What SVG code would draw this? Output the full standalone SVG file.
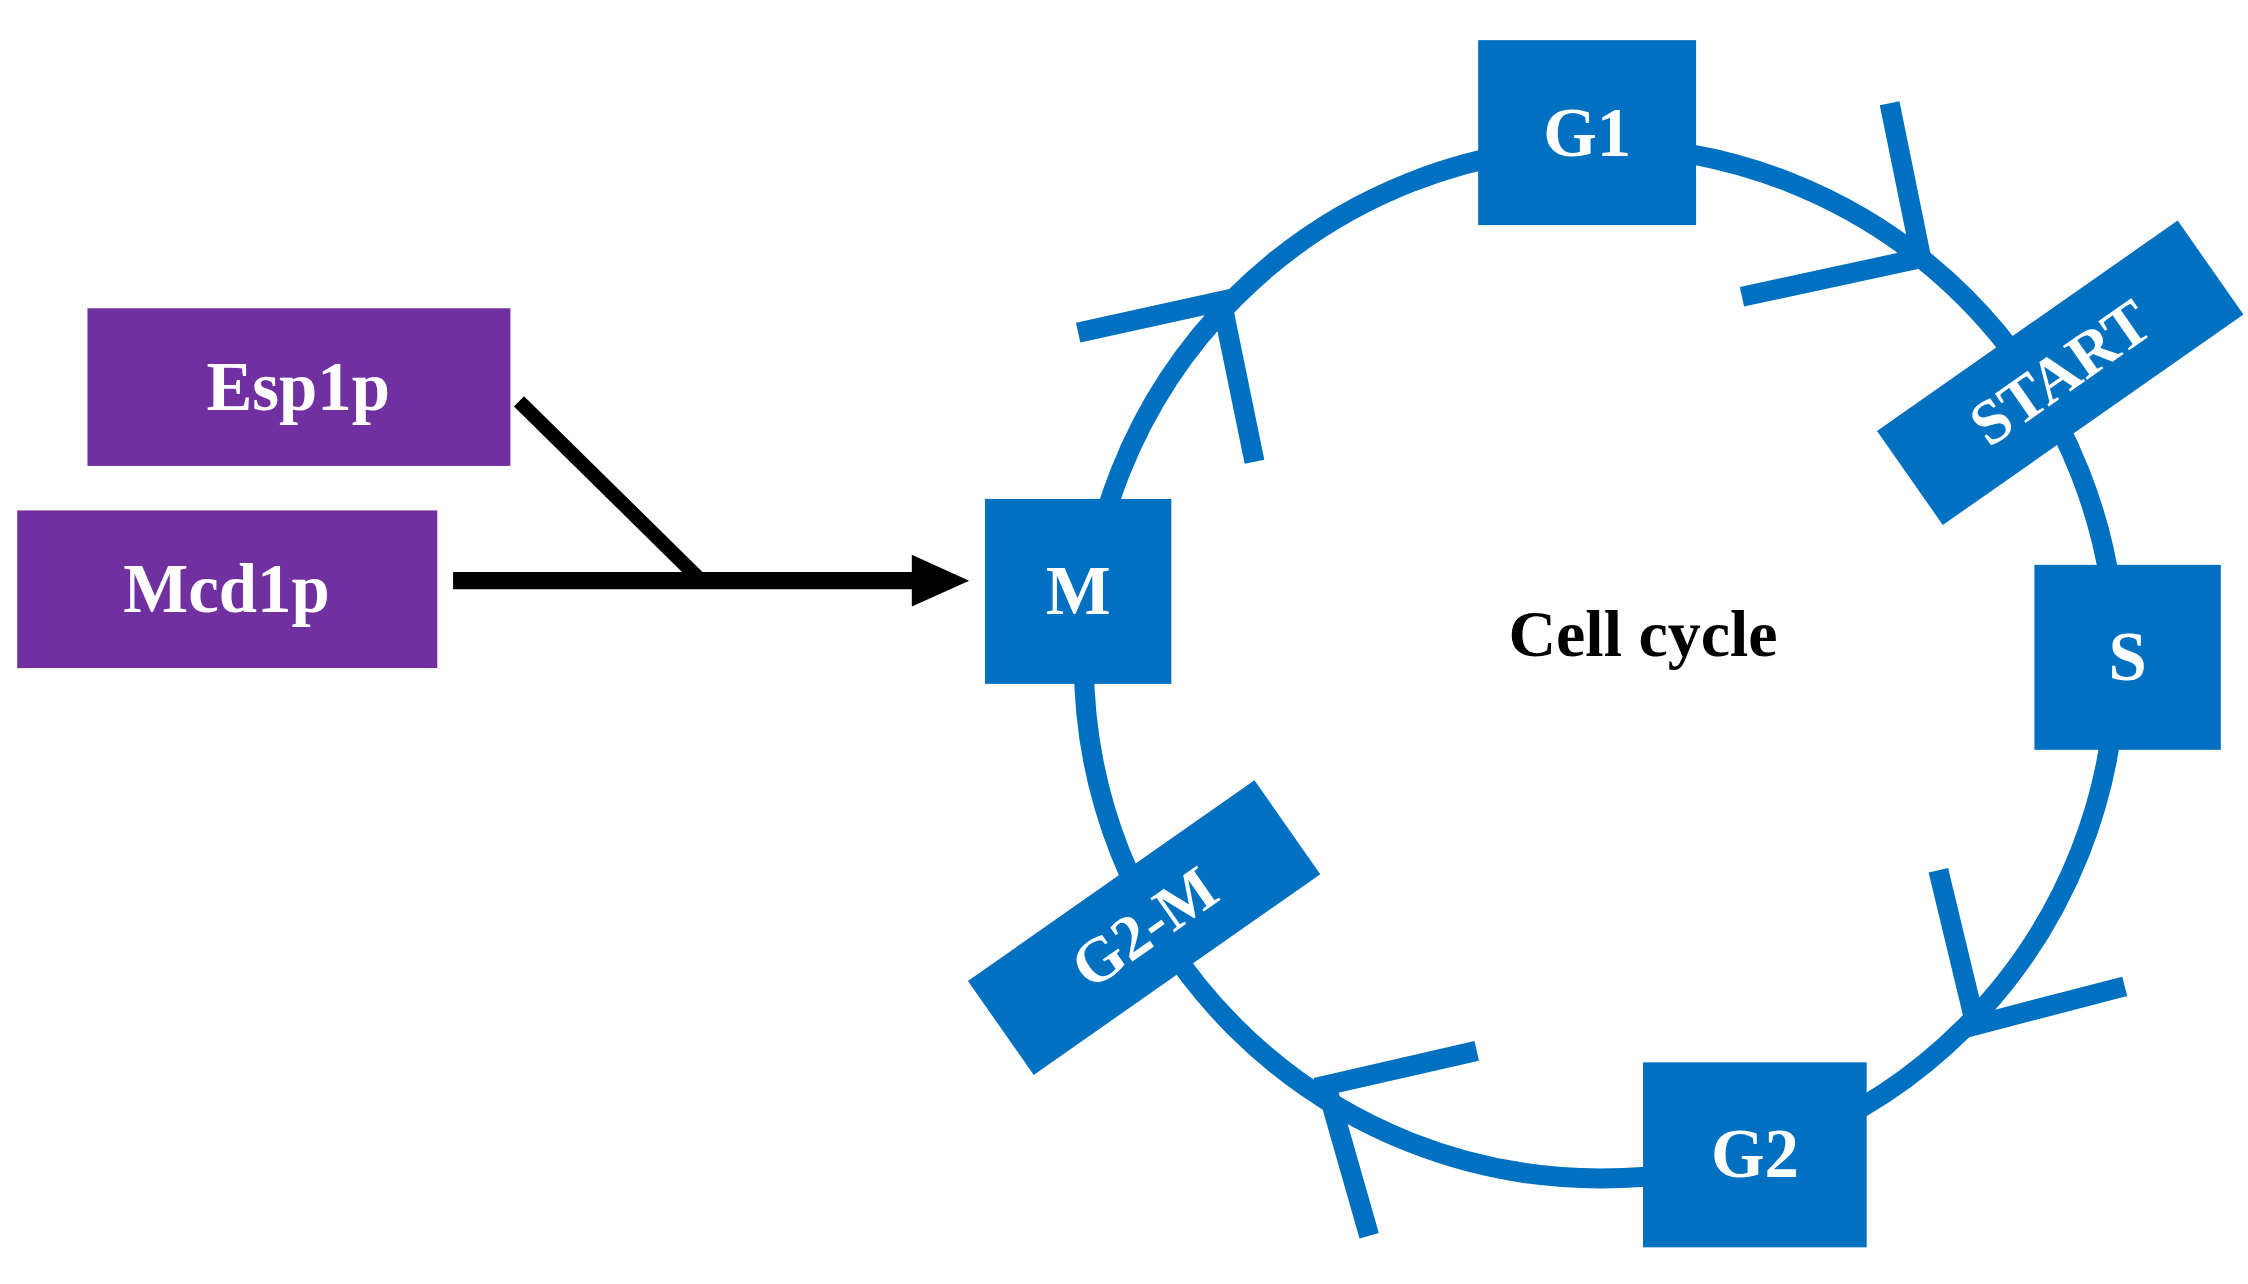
<svg xmlns="http://www.w3.org/2000/svg" width="2248" height="1284" viewBox="0 0 2248 1284">
<style>
.p{fill:#7030a0}.b{fill:#0070c0}
.t{font-family:"Liberation Serif",serif;font-weight:bold;fill:#fff;text-anchor:middle;dominant-baseline:central}
.c{fill:none;stroke:#0070c0;stroke-width:14}
</style>
<rect width="2248" height="1284" fill="#fff"/>
<g transform="scale(1.4337)">
<g id="connectors">
<circle class="c" cx="1116" cy="462" r="360"/>
<path class="c" d="M1318,72 L1340,180 L1215,207 M875,322 L852,210 L752,232 M1352,607 L1378,715 L1482,688 M955,862 L925,757 L1030,733"/>
<path d="M362,280 L487,403" stroke="#000" stroke-width="10" fill="none"/>
<path d="M316,405 H640" stroke="#000" stroke-width="12" fill="none"/>
<path d="M636,387 L676,405 L636,423 Z" fill="#000"/>
</g>
<g id="esp1p"><rect class="p" x="61" y="215" width="295" height="110"/><text class="t" x="208" y="270" font-size="48">Esp1p</text></g>
<g id="mcd1p"><rect class="p" x="12" y="356" width="293" height="110"/><text class="t" x="158" y="411" font-size="48">Mcd1p</text></g>
<g id="m"><rect class="b" x="687" y="348" width="130" height="129"/><text class="t" x="752" y="412" font-size="48">M</text></g>
<g id="g1"><rect class="b" x="1031" y="28" width="152" height="129"/><text class="t" x="1107" y="93" font-size="48">G1</text></g>
<g id="s"><rect class="b" x="1419" y="394" width="130" height="129"/><text class="t" x="1484" y="458" font-size="48">S</text></g>
<g id="g2"><rect class="b" x="1146" y="741" width="156" height="129"/><text class="t" x="1224" y="805" font-size="48">G2</text></g>
<g id="start" transform="translate(1437,260) rotate(-35)"><rect class="b" x="-128" y="-40" width="256" height="80"/><text class="t" x="0" y="0" font-size="44">START</text></g>
<g id="g2m" transform="translate(798,647) rotate(-35)"><rect class="b" x="-122" y="-40" width="244" height="80"/><text class="t" x="0" y="0" font-size="44">G2-M</text></g>
<g id="label"><text x="1146" y="442" font-family="Liberation Serif,serif" font-weight="bold" font-size="46" text-anchor="middle" dominant-baseline="central">Cell cycle</text></g>
</g>
</svg>
